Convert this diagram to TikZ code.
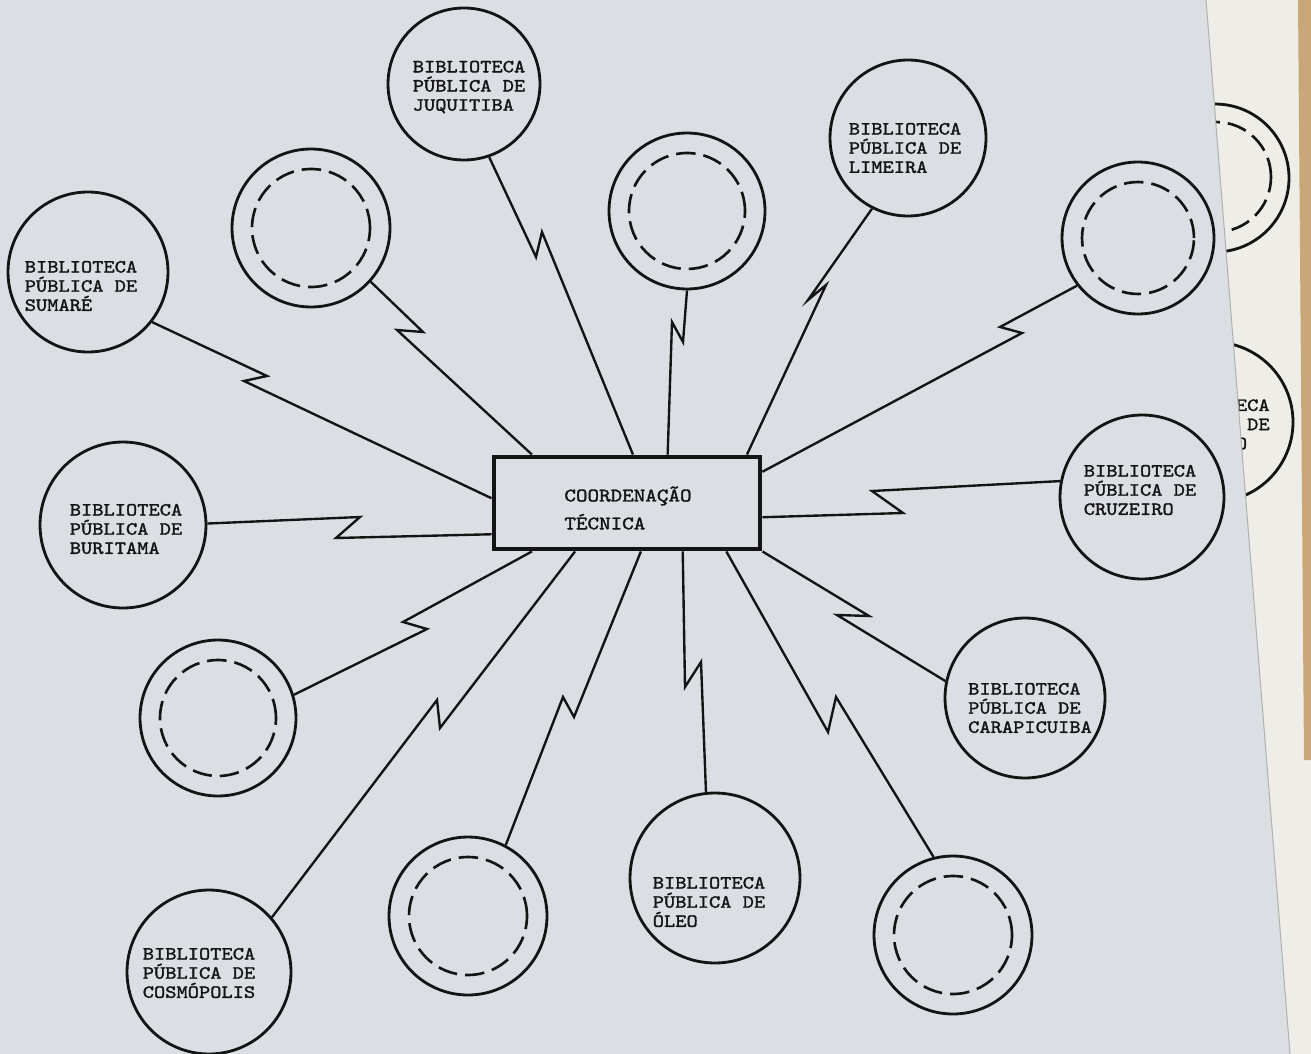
\documentclass[tikz,border=0pt]{standalone}
\usepackage{fontspec}
\newfontfamily\tw{lmmono10-regular.otf}[FakeBold=1.6,FakeStretch=1.15]
\definecolor{pagebg}{RGB}{219,223,227}
\definecolor{page2}{RGB}{238,237,231}
\definecolor{bookedge}{RGB}{200,168,120}
\definecolor{ink}{RGB}{20,20,20}
\newcommand{\libf}{\tw\fontsize{10.6pt}{10.9pt}\selectfont}
\newcommand{\hubf}{\tw\fontsize{10.9pt}{15.9pt}\selectfont}
\tikzset{
  lib/.style={circle, draw=ink, line width=1.6pt, inner sep=0pt},
  libtext/.style={inner sep=0pt, align=left, font=\libf, text=ink},
  ring/.style={circle, draw=ink, line width=1.6pt, inner sep=0pt},
  ringin/.style={circle, draw=ink, line width=1.5pt, inner sep=0pt, dash pattern=on 0.39cm off 0.16cm},
  link/.style={draw=ink, line width=1.35pt, line join=miter},
  hub/.style={rectangle, draw=ink, line width=2.8pt, inner sep=0pt,
              minimum width=5.32cm, minimum height=1.84cm},
  hubtext/.style={inner sep=0pt, align=left, font=\hubf, text=ink},
}
\begin{document}
\begin{tikzpicture}[x=0.02cm, y=-0.02cm]
\fill[pagebg] (0,0) rectangle (1311,1054);
\useasboundingbox (0,0) rectangle (1311,1054);
% second page peeking at right
\fill[page2] (1206,0) -- (1290,1054) -- (1311,1054) -- (1311,0) -- cycle;
\fill[bookedge] (1298,0) -- (1311,0) -- (1311,760) -- (1304,760) -- cycle;
\begin{scope}
  \clip (1206,0) -- (1290,1054) -- (1311,1054) -- (1311,0) -- cycle;
  \node[ring, minimum size=2.96cm] (p1) at (1215,178) {};
  \node[ringin, minimum size=2.2cm] (p1in) at (1216,177) {};
  \node[lib, minimum size=3.2cm] (p2) at (1213,422) {};
  \node[libtext, anchor=north east] (p2t) at (1270,399) {BIBLIOTECA\\PÚBLICA DE\\\phantom{XXXXXXX}O\phantom{XX}};
\end{scope}
\draw[gray!60, line width=0.6pt] (1206,0) -- (1290,1054);

% central box
\node[hub] (box) at (627,503) {};
\node[hubtext] (boxt) at (628,508) {COORDENAÇÃO\\TÉCNICA};

% libraries
\node[lib, minimum size=3.04cm] (jq) at (464,84) {};
\node[libtext] (jqt) at (469,87) {BIBLIOTECA\\PÚBLICA DE\\JUQUITIBA};
\node[lib, minimum size=3.12cm] (lm) at (908,138) {};
\node[libtext] (lmt) at (905,148) {BIBLIOTECA\\PÚBLICA DE\\LIMEIRA};
\node[lib, minimum size=3.2cm] (sm) at (88,272) {};
\node[libtext] (smt) at (81,286) {BIBLIOTECA\\PÚBLICA DE\\SUMARÉ};
\node[lib, minimum size=3.32cm] (bu) at (123,525) {};
\node[libtext] (but) at (126,529) {BIBLIOTECA\\PÚBLICA DE\\BURITAMA};
\node[lib, minimum size=3.28cm] (co) at (209,972) {};
\node[libtext] (cot) at (199,973) {BIBLIOTECA\\PÚBLICA DE\\COSMÓPOLIS};
\node[lib, minimum size=3.4cm] (ol) at (715,878) {};
\node[libtext] (olt) at (709,902) {BIBLIOTECA\\PÚBLICA DE\\ÓLEO};
\node[lib, minimum size=3.2cm] (ca) at (1025,698) {};
\node[libtext] (cat) at (1030,708) {BIBLIOTECA\\PÚBLICA DE\\CARAPICUIBA};
\node[lib, minimum size=3.28cm] (cr) at (1142,497) {};
\node[libtext] (crt) at (1140,490) {BIBLIOTECA\\PÚBLICA DE\\CRUZEIRO};

% empty (dashed) rings
\node[ring, minimum size=3.16cm] (ra) at (311,228) {};
\node[ringin, minimum size=2.36cm] (rain) at (311,228) {};
\node[ring, minimum size=3.12cm] (rb) at (687,211) {};
\node[ringin, minimum size=2.32cm] (rbin) at (687,211) {};
\node[ring, minimum size=3.04cm] (rc) at (1138,238) {};
\node[ringin, minimum size=2.24cm] (rcin) at (1138,238) {};
\node[ring, minimum size=3.12cm] (rd) at (218,718) {};
\node[ringin, minimum size=2.32cm] (rdin) at (218,718) {};
\node[ring, minimum size=3.16cm] (re) at (468,916) {};
\node[ringin, minimum size=2.36cm] (rein) at (468,916) {};
\node[ring, minimum size=3.16cm] (rf) at (953,935) {};
\node[ringin, minimum size=2.36cm] (rfin) at (953,935) {};

% lightning connectors
\draw[link] (sm.-38.6) -- (267,376) -- (244,381) -- (box.178);
\draw[link] (ra.-42.6) -- (423,332) -- (397,330) -- (box.153.4);
\draw[link] (jq.-71.3) -- (536,257) -- (542,232) -- (box.83.8);
\draw[link] (rb.-90) -- (683,342) -- (672,322) -- (box.50.4);
\draw[link] (lm.-117.8) -- (808,300) -- (826,285) -- (box.22.1);
\draw[link] (rc.-142) -- (1000,327) -- (1022,333) -- (box.13.9);
\draw[link] (cr.169.6) -- (872,491) -- (903,513) -- (box.-6.9);
\draw[link] (box.south east) -- (869,616) -- (837,615) -- (ca.168.7);
\draw[link] (box.-26.8) -- (828,732) -- (836,697) -- (rf.104.7);
\draw[link] (box.-41) -- (685,687) -- (701,662) -- (ol.96.3);
\draw[link] (box.-74.2) -- (574,717) -- (563,697) -- (re.62.5);
\draw[link] (box.-137.4) -- (440,728) -- (437,700) -- (co.41.5);
\draw[link] (box.-153.9) -- (403,622) -- (427,629) -- (rd.17.3);
\draw[link] (bu.1.4) -- (360,517) -- (336,538) -- (box.-167.3);
\end{tikzpicture}
\end{document}
